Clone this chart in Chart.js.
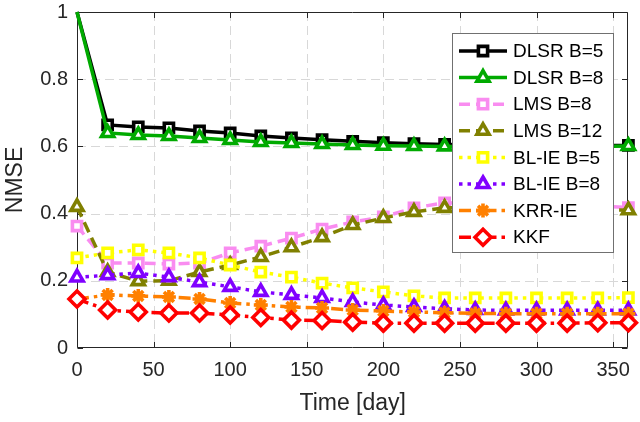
<!DOCTYPE html>
<html>
<head>
<meta charset="utf-8">
<script src="https://cdn.jsdelivr.net/npm/chart.js@4/dist/chart.umd.min.js"></script>
<style>
html,body{margin:0;padding:0;background:#fff;}
#wrap{width:640px;height:422px;position:relative;}
</style>
</head>
<body>
<div id="wrap"><canvas id="c" width="640" height="422"></canvas></div>
<script>
const days = [0,20,40,60,80,100,120,140,160,180,200,220,240,260,280,300,320,340,360];
const xTicks = [0,50,100,150,200,250,300,350];
const yTicks = [0,0.2,0.4,0.6,0.8,1];
const seriesNames = ['DLSR B=5','DLSR B=8','LMS B=8','LMS B=12','BL-IE B=5','BL-IE B=8','KRR-IE','KKF'];
const dlsrB5 = [1.0,0.664,0.658,0.655,0.646,0.640,0.631,0.625,0.620,0.615,0.611,0.608,0.606,0.605,0.604,0.604,0.603,0.603,0.603];
const dlsrB8 = [1.0,0.640,0.634,0.631,0.625,0.619,0.613,0.610,0.607,0.604,0.602,0.601,0.600,0.600,0.600,0.600,0.600,0.600,0.601];
const lmsB8 = [0.363,0.253,0.253,0.250,0.253,0.283,0.303,0.327,0.354,0.375,0.390,0.417,0.432,0.430,0.430,0.428,0.425,0.422,0.418];
const lmsB12 = [0.420,0.226,0.199,0.200,0.226,0.247,0.271,0.300,0.330,0.366,0.387,0.405,0.417,0.420,0.420,0.418,0.415,0.412,0.410];
const blieB5 = [0.268,0.283,0.292,0.283,0.268,0.247,0.226,0.211,0.193,0.179,0.167,0.155,0.149,0.149,0.149,0.149,0.149,0.149,0.150];
const blieB8 = [0.210,0.217,0.223,0.211,0.196,0.182,0.167,0.158,0.149,0.137,0.128,0.122,0.117,0.113,0.112,0.112,0.112,0.112,0.112];
const krrIE = [0.145,0.158,0.155,0.152,0.146,0.134,0.128,0.122,0.119,0.113,0.110,0.107,0.105,0.103,0.102,0.102,0.102,0.102,0.102];
const kkf = [0.146,0.113,0.107,0.104,0.104,0.098,0.091,0.083,0.082,0.077,0.074,0.074,0.074,0.074,0.074,0.074,0.074,0.075,0.075];

const allSeries = [dlsrB5,dlsrB8,lmsB8,lmsB12,blieB5,blieB8,krrIE,kkf];
const styles = [
  {color:'#000000', dash:[], point:'rect', r:6.5, skipFirst:true},
  {color:'#00aa00', dash:[], point:'triangle', r:7, skipFirst:true},
  {color:'#f98cf0', dash:[11,6], point:'rect', r:6.5},
  {color:'#808000', dash:[11,6], point:'triangle', r:7},
  {color:'#ffff00', dash:[3.5,5], point:'rect', r:6.5},
  {color:'#8000ff', dash:[3.5,5], point:'triangle', r:7},
  {color:'#ff8000', dash:[12,5,3.5,5], point:'star', r:7},
  {color:'#ff0000', dash:[12,5,3.5,5], point:'rectRot', r:8}
];
const AXIS = '#262626';
const FONT = '"Liberation Sans", Arial, sans-serif';

const datasets = allSeries.map((vals,i)=>({
  label: seriesNames[i],
  data: days.map((d,j)=>({x:d,y:vals[j]})),
  borderColor: styles[i].color,
  backgroundColor: '#ffffff',
  borderWidth: 3.5,
  borderDash: styles[i].dash,
  pointStyle: styles[i].point,
  pointRadius: days.map((d,j)=> (styles[i].skipFirst && j===0) ? 0 : styles[i].r),
  pointBorderWidth: 3.6,
  pointBorderColor: styles[i].color,
  pointBackgroundColor: '#ffffff',
  tension: 0,
  clip: false,
  order: 10 - i
}));

const framePlugin = {
  id:'frame',
  beforeDatasetsDraw(chart){
    const {ctx, chartArea:a, scales:{x,y}} = chart;
    ctx.save();
    ctx.strokeStyle = '#d8d8d8';
    ctx.lineWidth = 1;
    ctx.setLineDash([9,5]);
    xTicks.forEach(v=>{ if(v<=0) return; const px = Math.round(x.getPixelForValue(v))+0.5; ctx.beginPath(); ctx.moveTo(px,a.top); ctx.lineTo(px,a.bottom); ctx.stroke(); });
    yTicks.forEach(v=>{ if(v<=0||v>=1) return; const py = Math.round(y.getPixelForValue(v))+0.5; ctx.beginPath(); ctx.moveTo(a.left,py); ctx.lineTo(a.right,py); ctx.stroke(); });
    ctx.setLineDash([]);
    ctx.strokeStyle = AXIS;
    ctx.lineWidth = 1;
    const L = Math.round(a.left)+0.5, R = Math.round(a.right)-0.5, T = Math.round(a.top)+0.5, B = Math.round(a.bottom)-0.5;
    ctx.beginPath(); ctx.moveTo(L,T); ctx.lineTo(R,T); ctx.lineTo(R,B); ctx.lineTo(L,B); ctx.closePath(); ctx.stroke();
    const tl = 5.5;
    xTicks.forEach(v=>{ const px = Math.round(x.getPixelForValue(v))+0.5; ctx.beginPath(); ctx.moveTo(px,B); ctx.lineTo(px,B-tl); ctx.moveTo(px,T); ctx.lineTo(px,T+tl); ctx.stroke(); });
    yTicks.forEach(v=>{ const py = Math.round(y.getPixelForValue(v))+0.5; ctx.beginPath(); ctx.moveTo(L,py); ctx.lineTo(L+tl,py); ctx.moveTo(R,py); ctx.lineTo(R-tl,py); ctx.stroke(); });
    ctx.restore();
  }
};

function drawMarker(ctx, style, cx, cy, r, color){
  if (Chart.helpers && Chart.helpers.drawPoint){
    ctx.save();
    ctx.strokeStyle = color; ctx.fillStyle = '#ffffff'; ctx.lineWidth = 3.6; ctx.setLineDash([]);
    Chart.helpers.drawPoint(ctx, {pointStyle: style, radius: r, rotation: 0, borderWidth: 3.6}, cx, cy);
    ctx.restore();
  }
}

const legendPlugin = {
  id:'customLegend',
  afterDraw(chart){
    const ctx = chart.ctx;
    const bx = 452.5, by = 33.5, bw = 161, bh = 219;
    ctx.save();
    ctx.fillStyle = '#ffffff';
    ctx.fillRect(bx,by,bw,bh);
    ctx.strokeStyle = '#707070';
    ctx.lineWidth = 1;
    ctx.strokeRect(bx,by,bw,bh);
    ctx.font = '19px ' + FONT;
    ctx.textBaseline = 'middle';
    ctx.textAlign = 'left';
    seriesNames.forEach((name,i)=>{
      const cy = 51 + i*26.6;
      const st = styles[i];
      ctx.strokeStyle = st.color;
      ctx.lineWidth = 3.5;
      ctx.setLineDash(st.dash);
      ctx.beginPath(); ctx.moveTo(459,cy); ctx.lineTo(507,cy); ctx.stroke();
      ctx.setLineDash([]);
      drawMarker(ctx, st.point, 483, cy, st.r, st.color);
      ctx.fillStyle = '#000000';
      ctx.fillText(name, 513, cy+1);
    });
    ctx.restore();
  }
};

new Chart(document.getElementById('c'), {
  type:'line',
  data:{datasets},
  options:{
    responsive:false,
    devicePixelRatio:1,
    animation:false,
    layout:{padding:{left:0,top:12,right:7,bottom:0}},
    plugins:{legend:{display:false},tooltip:{enabled:false}},
    elements:{line:{borderCapStyle:'butt'}},
    scales:{
      x:{
        type:'linear', min:0, max:360,
        ticks:{stepSize:50, color:AXIS, font:{family:FONT, size:20}, padding:10, maxRotation:0, autoSkip:false,
               callback:(v)=>String(v)},
        afterBuildTicks(s){ s.ticks = xTicks.map(v=>({value:v})); },
        grid:{display:false, drawTicks:false},
        border:{display:false},
        title:{display:true, text:'Time [day]', color:AXIS, font:{family:FONT, size:23}, padding:{top:0,bottom:5}},
        afterFit(s){ s.height = 74; s.paddingLeft = 0; s.paddingRight = 0; }
      },
      y:{
        type:'linear', min:0, max:1,
        ticks:{stepSize:0.2, color:AXIS, font:{family:FONT, size:20}, padding:9,
               callback:(v)=>String(Math.round(v*10)/10)},
        afterBuildTicks(s){ s.ticks = yTicks.map(v=>({value:v})); },
        grid:{display:false, drawTicks:false},
        border:{display:false},
        title:{display:true, text:'NMSE', color:AXIS, font:{family:FONT, size:23}, padding:{top:2,bottom:0}},
        afterFit(s){ s.width = 77; s.paddingTop = 0; s.paddingBottom = 0; }
      }
    }
  },
  plugins:[framePlugin, legendPlugin]
});
</script>
</body>
</html>
